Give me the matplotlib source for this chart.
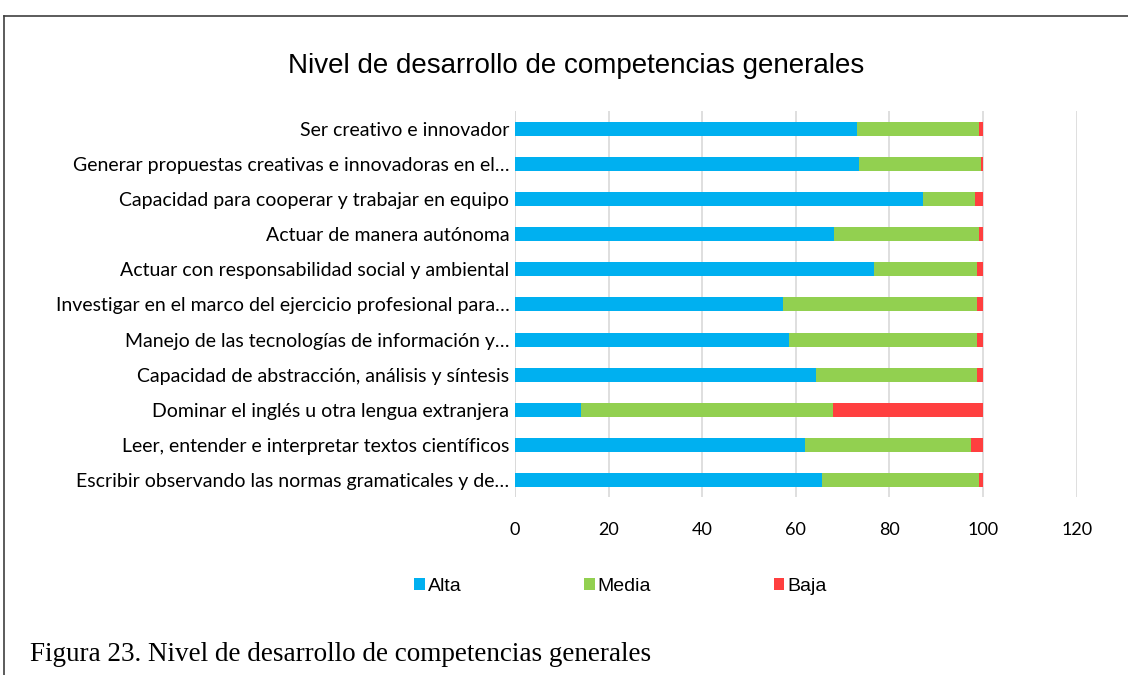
import numpy as np
import matplotlib.pyplot as plt
from matplotlib.lines import Line2D

categorias = [
    'Ser creativo e innovador',
    'Generar propuestas creativas e innovadoras en el…',
    'Capacidad para cooperar y trabajar en equipo',
    'Actuar de manera autónoma',
    'Actuar con responsabilidad social y ambiental',
    'Investigar en el marco del ejercicio profesional para…',
    'Manejo de las tecnologías de información y…',
    'Capacidad de abstracción, análisis y síntesis',
    'Dominar el inglés u otra lengua extranjera',
    'Leer, entender e interpretar textos científicos',
    'Escribir observando las normas gramaticales y de…',
]
alta = [73.1, 73.5, 87.2, 68.2, 76.7, 57.3, 58.5, 64.3, 14.0, 62.0, 65.6]
media = [26.0, 26.1, 11.1, 30.9, 22.0, 41.4, 40.2, 34.4, 53.9, 35.4, 33.5]
baja = [0.9, 0.4, 1.7, 0.9, 1.3, 1.3, 1.3, 1.3, 32.1, 2.6, 0.9]
xticks = [0, 20, 40, 60, 80, 100, 120]

fig = plt.figure(figsize=(11.28, 6.75), dpi=100)
ax = fig.add_axes([0.4566, 0.263, 0.4979, 0.5719])

y = np.arange(len(categorias))
alta = np.array(alta)
media = np.array(media)
baja = np.array(baja)

ax.barh(y, alta, height=0.4, color='#00B0F0', label='Alta', zorder=3)
ax.barh(y, media, left=alta, height=0.4, color='#92D050', label='Media', zorder=3)
ax.barh(y, baja, left=alta + media, height=0.4, color='#FF3F3F', label='Baja', zorder=3)

ax.set_ylim(len(categorias) - 0.5, -0.5)
ax.set_xlim(0, 120)
ax.set_xticks(xticks)
ax.set_yticks(y)
ax.set_yticklabels(categorias, fontfamily='Lato', fontsize=14)
for lbl in ax.get_xticklabels():
    lbl.set_fontfamily('Lato')
    lbl.set_fontsize(13)
ax.tick_params(length=0, pad=4)
ax.tick_params(axis='x', pad=18)
ax.xaxis.grid(True, color='#d9d9d9', linewidth=1.2, zorder=0)
for s in ax.spines.values():
    s.set_visible(False)
ax.axvline(0, color='#d9d9d9', linewidth=1.2, zorder=1)

fig.text(0.511, 0.902, 'Nivel de desarrollo de competencias generales',
         ha='center', va='center', fontsize=20, fontfamily='Liberation Sans')

ax.legend(loc='center', bbox_to_anchor=(0.55, 0.131), bbox_transform=fig.transFigure,
          ncol=3, frameon=False, handlelength=0.55, handleheight=0.55,
          handletextpad=0.15, columnspacing=6.3,
          prop={'family': 'Liberation Sans', 'size': 14})

fig.text(0.027, 0.03, 'Figura 23. Nivel de desarrollo de competencias generales',
         ha='left', va='center', fontsize=19.5, fontfamily='Liberation Serif')

# marco del gráfico
fig.add_artist(Line2D([4 / 1128, 1.0], [1 - 16 / 675, 1 - 16 / 675], color='#404040', linewidth=1.2))
fig.add_artist(Line2D([4 / 1128, 4 / 1128], [0.0, 1 - 16 / 675], color='#404040', linewidth=1.2))

fig.savefig('out.png', dpi=100)
